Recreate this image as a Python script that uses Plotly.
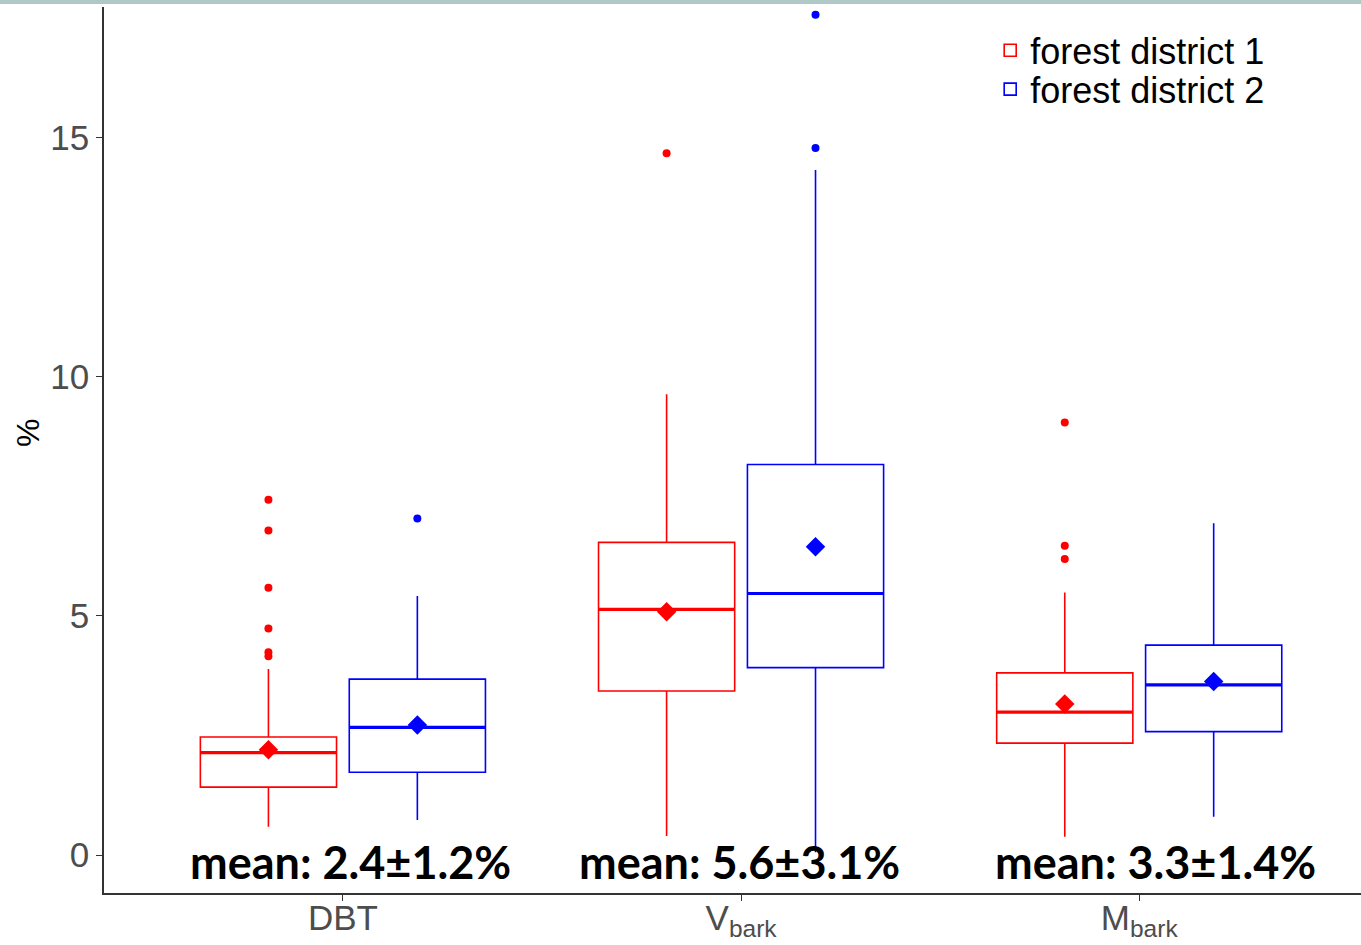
import plotly.graph_objects as go

# ---- data ----
categories = ["DBT", "V<sub>bark</sub>", "M<sub>bark</sub>"]
groups = ["forest district 1", "forest district 2"]
colors = ["#ff0000", "#0000ff"]

q1 = {"forest district 1": [1.42, 3.43, 2.34], "forest district 2": [1.73, 3.92, 2.58]}
median = {"forest district 1": [2.14, 5.14, 2.99], "forest district 2": [2.67, 5.47, 3.56]}
q3 = {"forest district 1": [2.47, 6.54, 3.81], "forest district 2": [3.68, 8.17, 4.39]}
lower = {"forest district 1": [0.59, 0.40, 0.38], "forest district 2": [0.73, 0.06, 0.80]}
upper = {"forest district 1": [3.89, 9.64, 5.49], "forest district 2": [5.42, 14.33, 6.94]}
means = {"forest district 1": [2.20, 5.09, 3.16], "forest district 2": [2.72, 6.45, 3.63]}
outliers = {
    "forest district 1": [[7.43, 6.79, 5.59, 4.74, 4.24, 4.16], [14.68], [9.05, 6.47, 6.19]],
    "forest district 2": [[7.04], [17.58, 14.79], []],
}
mean_labels = ["mean: 2.4±1.2%", "mean: 5.6±3.1%", "mean: 3.3±1.4%"]
y_title = "%"

# ---- layout constants ----
W, H = 1361, 945
ML, MR, MT, MB = 104, 0, 7, 52
dodge = 0.187
box_w = 0.342
label_x = [0.018, 0.996, 2.04]
legend_names = ["legend", "legend2"]
legend_y = [0.985, 0.941]

fig = go.Figure()
for gi, g in enumerate(groups):
    off = -dodge if gi == 0 else dodge
    xs = [i + off for i in range(len(categories))]
    fig.add_trace(go.Box(
        x=xs, q1=q1[g], median=median[g], q3=q3[g],
        lowerfence=lower[g], upperfence=upper[g],
        name=g, width=box_w, whiskerwidth=0,
        line=dict(color=colors[gi], width=1.6),
        fillcolor="rgba(255,255,255,0)",
        boxpoints=False, showlegend=True, legendgroup=g,
        legend=legend_names[gi],
        hoverinfo="skip",
    ))
    # thicker median lines
    for i, x in enumerate(xs):
        fig.add_trace(go.Scatter(
            x=[x - box_w / 2, x + box_w / 2], y=[median[g][i]] * 2,
            mode="lines", line=dict(color=colors[gi], width=3.2),
            showlegend=False, legendgroup=g, hoverinfo="skip",
        ))
    # outliers
    ox, oy = [], []
    for i, x in enumerate(xs):
        for v in outliers[g][i]:
            ox.append(x)
            oy.append(v)
    fig.add_trace(go.Scatter(
        x=ox, y=oy, mode="markers",
        marker=dict(color=colors[gi], size=8, symbol="circle"),
        showlegend=False, legendgroup=g, hoverinfo="skip",
    ))
    # mean diamonds
    fig.add_trace(go.Scatter(
        x=xs, y=means[g], mode="markers",
        marker=dict(color=colors[gi], size=15, symbol="diamond"),
        showlegend=False, legendgroup=g, hoverinfo="skip",
    ))

for i, t in enumerate(mean_labels):
    fig.add_annotation(
        x=label_x[i], y=-0.136, text="<b>" + t + "</b>", showarrow=False,
        xanchor="center", yanchor="middle",
        font=dict(family="Lato", size=45, color="#000000"),
    )

plot_w = W - ML - MR
plot_h = H - MT - MB

# y-axis title
fig.add_annotation(
    xref="paper", yref="paper", x=(28 - ML) / plot_w, y=1 - (433 - MT) / plot_h,
    text=y_title, textangle=-90, showarrow=False, xanchor="center", yanchor="middle",
    font=dict(family="Liberation Sans, Arial", size=32, color="#000000"),
)

fig.add_shape(
    type="rect", xref="paper", yref="paper",
    x0=-ML / plot_w, x1=1.0,
    y0=1 + (MT - 4) / plot_h, y1=1 + (MT + 2) / plot_h,
    fillcolor="#b0c8c6", line=dict(width=0), layer="above",
)

tickfont = dict(family="Liberation Sans, Arial", size=35, color="#4d4d4d")
legfont = dict(family="Liberation Sans, Arial", size=36, color="#000000")
legend_common = dict(
    x=0.705, xanchor="left", yanchor="top", font=legfont,
    bgcolor="rgba(0,0,0,0)", itemwidth=30,
)
fig.update_layout(
    width=W, height=H,
    margin=dict(l=ML, r=MR, t=MT, b=MB, autoexpand=False),
    paper_bgcolor="white", plot_bgcolor="white",
    showlegend=True,
    legend=dict(y=legend_y[0], **legend_common),
    legend2=dict(y=legend_y[1], **legend_common),
    xaxis=dict(
        range=[-0.6, 2.557], tickmode="array", tickvals=[0, 1, 2], ticktext=categories,
        showgrid=False, zeroline=False, showline=True, linecolor="#333333", linewidth=1.6,
        ticks="outside", ticklen=6, tickwidth=1.4, tickcolor="#333333",
        tickfont=tickfont, automargin=False, ticklabelstandoff=-13,
    ),
    yaxis=dict(
        range=[-0.795, 17.74], tickmode="array", tickvals=[0, 5, 10, 15],
        showgrid=False, zeroline=False, showline=True, linecolor="#333333", linewidth=1.6,
        ticks="outside", ticklen=6, tickwidth=1.4, tickcolor="#333333",
        tickfont=tickfont, automargin=False,
    ),
)

fig.write_html("out.html")
